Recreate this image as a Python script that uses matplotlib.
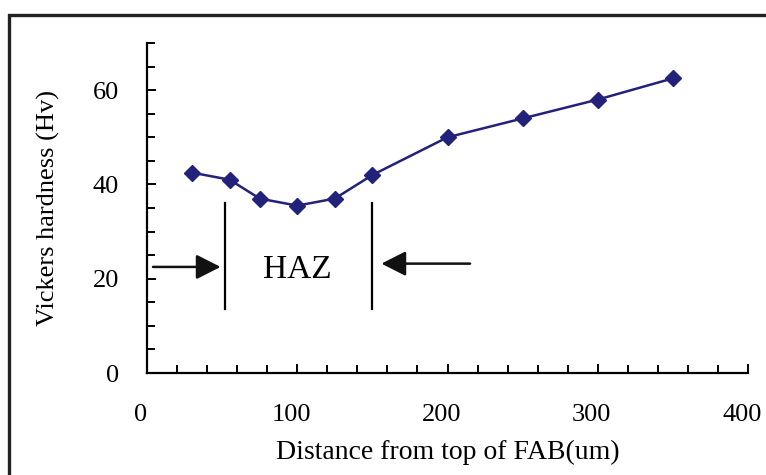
import numpy as np
import matplotlib
matplotlib.use("Agg")
import matplotlib.pyplot as plt
import matplotlib.transforms as mtransforms
from matplotlib.patches import Rectangle
from matplotlib.ticker import MultipleLocator

# hardness profile
distance = [30, 55, 75, 100, 125, 150, 200, 250, 300, 350]
hardness = [42.5, 41, 37, 35.5, 37, 42, 50, 54, 58, 62.5]

haz_bounds = [52, 150]
haz_label = "HAZ"
x_ticks = [0, 100, 200, 300, 400]
y_ticks = [0, 20, 40, 60]

plt.rcParams['font.family'] = ['Liberation Serif', 'DejaVu Serif']

fig = plt.figure(figsize=(7.66, 4.75), dpi=100)
# outer frame, cut off by the right and bottom edges as in the scan
fig.patches.append(Rectangle((9 / 766, -0.2), 1.0, 1.2 - 15 / 475,
                             transform=fig.transFigure, fill=False,
                             edgecolor='#222222', linewidth=2.4))

ax = fig.add_axes([147 / 766, 1 - 373 / 475, 601 / 766, 330 / 475])
ax.plot(distance, hardness, color='#22227a', linewidth=1.8,
        marker='D', markersize=8, zorder=3)

ax.set_xlim(0, 400)
ax.set_ylim(0, 70)
ax.set_xticks(x_ticks)
ax.set_yticks(y_ticks)
ax.xaxis.set_minor_locator(MultipleLocator(20))
ax.yaxis.set_minor_locator(MultipleLocator(5))
ax.tick_params(which='both', direction='in', color='black', width=1.4)
ax.tick_params(which='major', length=6.5, labelsize=19)
ax.tick_params(which='minor', length=5.5)
ax.tick_params(axis='y', which='major', pad=20)
ax.tick_params(axis='x', which='major', pad=22)
for side in ['top', 'right']:
    ax.spines[side].set_visible(False)
for side in ['left', 'bottom']:
    ax.spines[side].set_linewidth(1.6)

# x tick labels sit a few pixels left of their ticks in the scan
shift = mtransforms.ScaledTranslation(-6 / 100, 0, fig.dpi_scale_trans)
for lbl in ax.get_xticklabels():
    lbl.set_transform(lbl.get_transform() + shift)

ax.set_xlabel("Distance from top of FAB(um)", fontsize=20, labelpad=10)
ax.set_ylabel("Vickers hardness (Hv)", fontsize=19, labelpad=24)

# HAZ markers
for xb in haz_bounds:
    ax.plot([xb, xb], [13.5, 36], color='black', linewidth=1.6)
head = '-|>,head_length=0.75,head_width=0.38'
ax.annotate("", xy=(haz_bounds[0] - 3, 22.5), xytext=(4, 22.5),
            arrowprops=dict(arrowstyle=head, color='#111111', lw=1.8,
                            mutation_scale=20, shrinkA=0, shrinkB=0))
ax.annotate("", xy=(haz_bounds[1] + 6, 23.2), xytext=(215, 23.2),
            arrowprops=dict(arrowstyle=head, color='#111111', lw=1.8,
                            mutation_scale=20, shrinkA=0, shrinkB=0))
ax.text(100, 22, haz_label, fontsize=24, ha='center', va='center')

fig.savefig("out.png", dpi=100)
